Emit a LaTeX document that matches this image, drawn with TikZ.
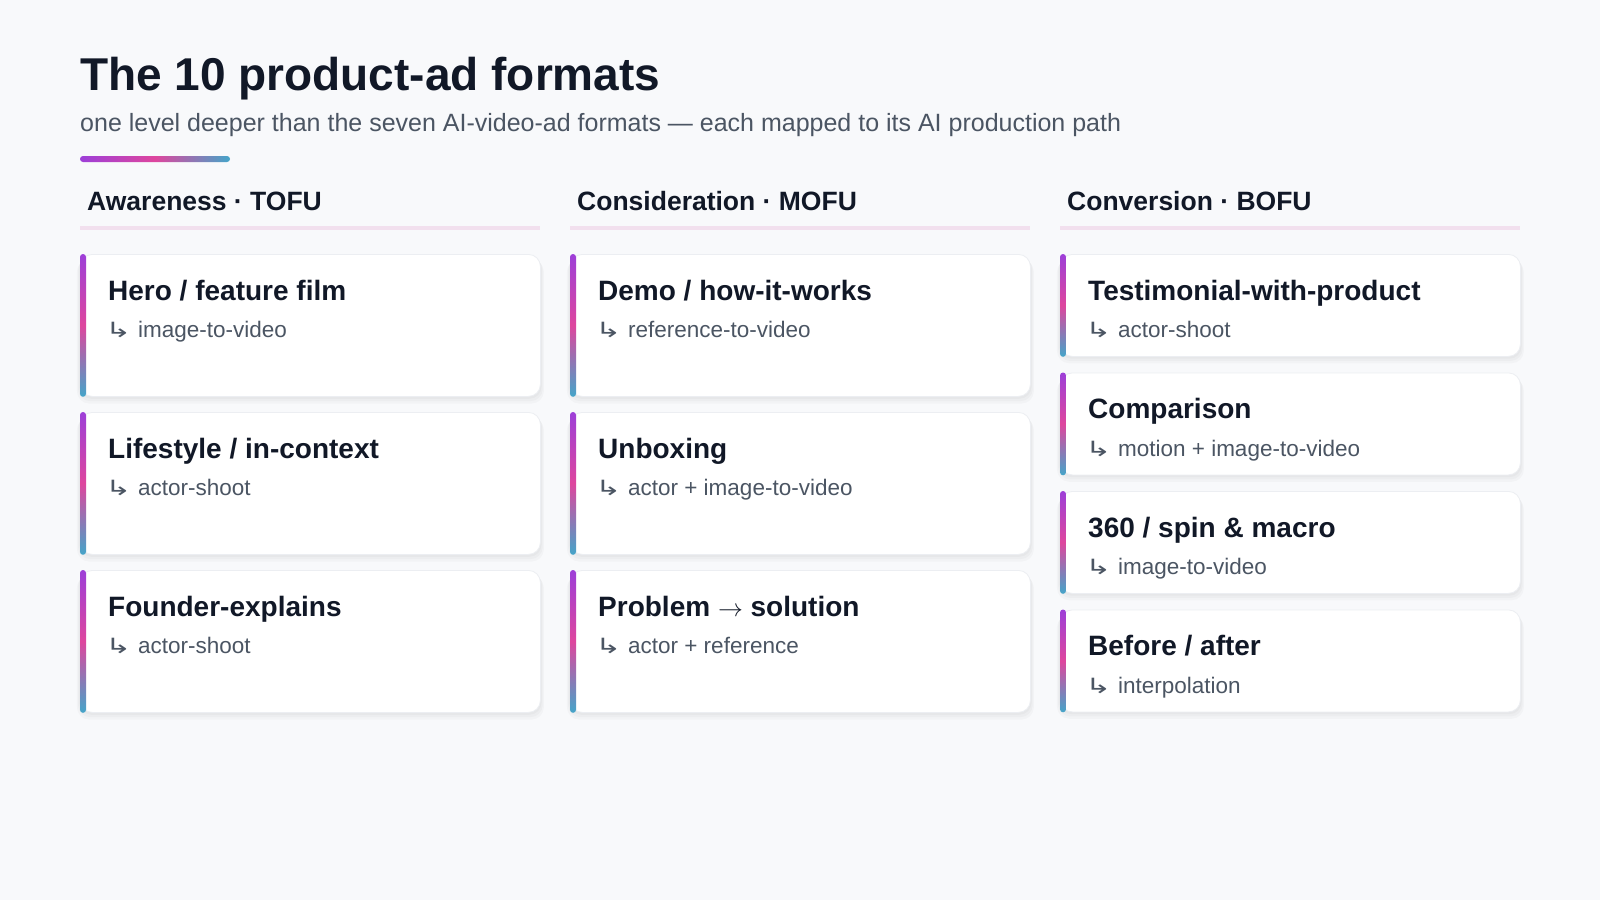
\documentclass[tikz,border=0pt]{standalone}
\usepackage{fontspec}
\usepackage{graphicx}
\setmainfont{Liberation Sans}
\newfontfamily\symfont{DejaVu Sans}
\usetikzlibrary{positioning, calc, shadows}
\definecolor{cbg}{HTML}{F8F9FB}
\definecolor{cink}{HTML}{111827}
\definecolor{cslate}{HTML}{4B5563}
\definecolor{cline}{HTML}{F2E0EE}
\definecolor{cedge}{HTML}{ECEEF2}
\definecolor{cpurple}{HTML}{9D3FD8}
\definecolor{cpink}{HTML}{DE469E}
\definecolor{cteal}{HTML}{44A5C9}
\newcommand{\hookarr}{{\symfont\fontsize{21}{21}\selectfont\scalebox{1.5}[1]{↳}}}
\tikzset{
  every picture/.style={x=1pt, y=-1pt},
  title/.style={inner sep=0pt, anchor=base west, text=cink, font=\fontsize{46}{50}\selectfont\bfseries},
  subtitle/.style={inner sep=0pt, anchor=base west, text=cslate, font=\fontsize{25}{28}\selectfont},
  colhead/.style={inner sep=0pt, anchor=base west, text=cink, font=\fontsize{26.5}{30}\selectfont\bfseries},
  headline/.style={draw=cline, line width=4pt},
  soft/.style={general shadow={shadow xshift=0pt, shadow yshift=-#1pt, shadow scale=1+#1/400, opacity=0.025, fill=black}},
}
\begin{document}
\begin{tikzpicture}[card/.style={draw=cedge, line width=0.8pt, fill=white, rounded corners=12pt, minimum width=460pt, minimum height=#1pt, inner sep=0pt, anchor=north west,
                      soft=6, soft=4, soft=2},
                    cardbar/.style={top color=cpurple, bottom color=cteal, middle color=cpink, rounded corners=3pt},
                    ctitle/.style={inner sep=0pt, anchor=base west, text=cink, font=\fontsize{28}{32}\selectfont\bfseries},
                    csub/.style={inner sep=0pt, anchor=base west, text=cslate, font=\fontsize{22.5}{26}\selectfont}]
  \fill[cbg] (0,0) rectangle (1600,900);
  \node[title] (head) at (80,90) {The 10 product-ad formats};
  \node[subtitle] (sub) at (80,131) {one level deeper than the seven AI-video-ad formats — each mapped to its AI production path};
  \shade[left color=cpurple, right color=cteal, middle color=cpink, rounded corners=3pt] (80,156) rectangle (230,162);
  \foreach \id/\x/\t in {hawa/80/Awareness · TOFU, hcon/570/Consideration · MOFU, hconv/1060/Conversion · BOFU} {
    \node[colhead] (\id) at (\x+7,210) {\t};
    \draw[headline] (\x,228) -- (\x+460,228);
  }
  \foreach \id/\x/\y/\h/\ttl/\sub in {
      hero/80/254/142/{Hero / feature film}/image-to-video,
      life/80/412/142/{Lifestyle / in-context}/actor-shoot,
      founder/80/570/142/Founder-explains/actor-shoot,
      demo/570/254/142/{Demo / how-it-works}/reference-to-video,
      unbox/570/412/142/Unboxing/{actor + image-to-video},
      prob/570/570/142/{Problem {\mdseries$\rightarrow$} solution}/{actor + reference},
      testi/1060/254/102/Testimonial-with-product/actor-shoot,
      comp/1060/372.5/102/Comparison/{motion + image-to-video},
      spin/1060/491/102/{360 / spin \& macro}/image-to-video,
      after/1060/609.5/102/{Before / after}/interpolation} {
    \node[card=\h] (\id) at (\x,\y) {};
    \shade[cardbar] (\id.north west) rectangle ([xshift=6pt]\id.south west);
    \node[ctitle] (\id-t) at ([shift={(28pt,-46pt)}]\id.north west) {\ttl};
    \node[csub] (\id-s) at ([shift={(25pt,-83.5pt)}]\id.north west) {\hookarr\hspace{6.5pt}\sub};
  }
\end{tikzpicture}
\end{document}
